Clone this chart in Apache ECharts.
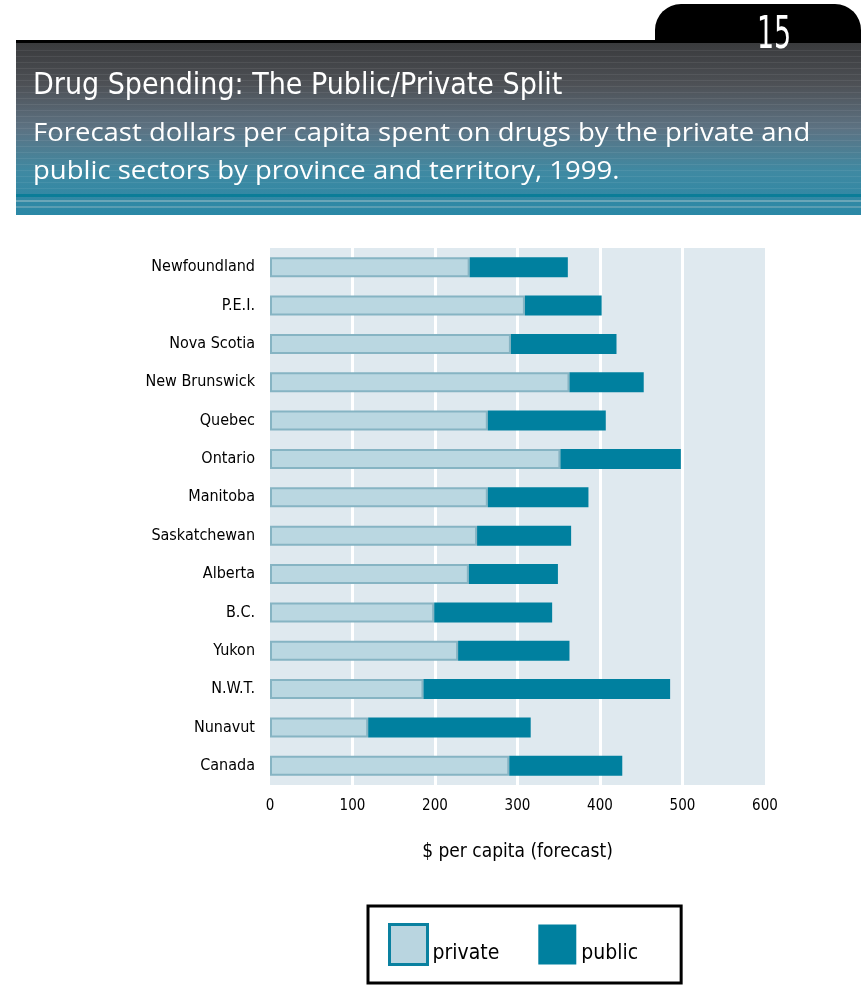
<!DOCTYPE html>
<html>
<head>
<meta charset="utf-8">
<script src="https://cdn.jsdelivr.net/npm/echarts@6/dist/echarts.min.js"></script>
<style>
  html, body { margin: 0; padding: 0; background: #ffffff; }
  #chart { width: 861px; height: 998px; }
</style>
</head>
<body>
<div id="chart"></div>
<script>
// Per-capita drug spending forecast, 1999, by province/territory
const provinces = ['Newfoundland', 'P.E.I.', 'Nova Scotia', 'New Brunswick', 'Quebec', 'Ontario',
  'Manitoba', 'Saskatchewan', 'Alberta', 'B.C.', 'Yukon', 'N.W.T.', 'Nunavut', 'Canada'];
const privateSpend = [242, 309, 292, 363, 264, 352, 264, 251, 241, 199, 228, 186, 119, 290];
const publicSpend  = [119,  93, 128,  90, 143, 146, 122, 114, 108, 143, 135, 299, 197, 137];
const xTicks = [0, 100, 200, 300, 400, 500, 600];

const narrow = '"Liberation Sans Narrow", "DejaVu Sans Condensed", "Roboto", sans-serif';

const chart = echarts.init(document.getElementById('chart'), null, { renderer: 'canvas' });

// Header banner: black tab, gradient band, striped bottom edge
const header = [
  { type: 'rect', shape: { x: 655, y: 4, width: 206, height: 45, r: [26, 26, 0, 0] },
    style: { fill: '#000' }, z: 1 },
  { type: 'rect', shape: { x: 16, y: 40, width: 845, height: 175 },
    style: { fill: new echarts.graphic.LinearGradient(0, 0, 0, 1, [
      { offset: 0, color: '#38393b' },
      { offset: 0.25, color: '#4d5055' },
      { offset: 0.5, color: '#5d7282' },
      { offset: 0.75, color: '#3f89a2' },
      { offset: 1, color: '#2a88a6' }
    ]) }, z: 2 },
  { type: 'rect', shape: { x: 16, y: 40, width: 845, height: 3 }, style: { fill: '#000' }, z: 3 },
  { type: 'rect', shape: { x: 16, y: 194, width: 845, height: 3 }, style: { fill: '#0a7d98' }, z: 3 },
  { type: 'rect', shape: { x: 16, y: 200, width: 845, height: 2 }, style: { fill: '#6aa6b8' }, z: 3 },
  { type: 'rect', shape: { x: 16, y: 206, width: 845, height: 2 }, style: { fill: '#5a9db2' }, z: 3 },
  { type: 'text', x: 757, y: 37, z: 5, scaleX: 0.68,
    style: { text: '15', fill: '#fff', font: '44px ' + narrow, verticalAlign: 'middle' } },
  { type: 'text', x: 33, y: 86, z: 5,
    style: { text: 'Drug Spending: The Public/Private Split', fill: '#fff',
      font: '30px ' + narrow, verticalAlign: 'middle' } },
  { type: 'text', x: 33, y: 134, z: 5, scaleX: 1.1,
    style: { text: 'Forecast dollars per capita spent on drugs by the private and', fill: '#fff',
      font: '25px "Open Sans", sans-serif', verticalAlign: 'middle' } },
  { type: 'text', x: 33, y: 172, z: 5, scaleX: 1.1,
    style: { text: 'public sectors by province and territory, 1999.', fill: '#fff',
      font: '25px "Open Sans", sans-serif', verticalAlign: 'middle' } }
];

// Horizontal scan stripes across the banner
for (let y = 50; y < 192; y += 6) {
  header.push({ type: 'rect', shape: { x: 16, y: y, width: 845, height: 1 },
    style: { fill: 'rgba(255,255,255,0.07)' }, z: 3 });
}

chart.setOption({
  backgroundColor: '#ffffff',
  animation: false,
  graphic: header,
  grid: {
    left: 270, right: 96, top: 248, bottom: 213,
    show: true, backgroundColor: '#dfe9ef', borderWidth: 0
  },
  xAxis: {
    type: 'value', min: xTicks[0], max: xTicks[xTicks.length - 1], interval: 100,
    name: '$ per capita (forecast)', nameLocation: 'middle', nameGap: 58,
    nameTextStyle: { color: '#000', fontSize: 19, fontFamily: narrow },
    axisLine: { show: false }, axisTick: { show: false },
    axisLabel: { color: '#000', fontSize: 15, fontFamily: narrow, margin: 14 },
    splitLine: { show: true, lineStyle: {
      color: ['rgba(0,0,0,0)', '#fff', '#fff', '#fff', '#fff', '#fff', 'rgba(0,0,0,0)'], width: 3 } }
  },
  yAxis: {
    type: 'category', data: provinces, inverse: true,
    axisLine: { show: false }, axisTick: { show: false },
    axisLabel: { color: '#000', fontSize: 16, fontFamily: narrow, margin: 15 }
  },
  legend: {
    left: 368, top: 906,
    padding: [17, 43, 17, 20],
    itemGap: 39, itemWidth: 38, itemHeight: 40,
    icon: 'rect',
    borderColor: '#000', borderWidth: 3,
    formatter: name => '{t|' + name + '}',
    textStyle: {
      color: '#000', fontFamily: narrow,
      rich: { t: { fontSize: 21, fontFamily: narrow, color: '#000', padding: [18, 0, 0, 0] } }
    },
    data: [
      { name: 'private', itemStyle: { color: '#b9d5e0', borderColor: '#0a81a0', borderWidth: 3 } },
      { name: 'public', itemStyle: { color: '#00809f', borderWidth: 0 } }
    ]
  },
  series: [
    { name: 'private', type: 'bar', stack: 'total', data: privateSpend, barWidth: 20,
      itemStyle: { color: '#bad7e1', borderColor: '#86b4c3', borderWidth: 2 } },
    { name: 'public', type: 'bar', stack: 'total', data: publicSpend, barWidth: 20,
      itemStyle: { color: '#00809f', borderColor: '#00809f', borderWidth: 0 } }
  ]
});
</script>
</body>
</html>
